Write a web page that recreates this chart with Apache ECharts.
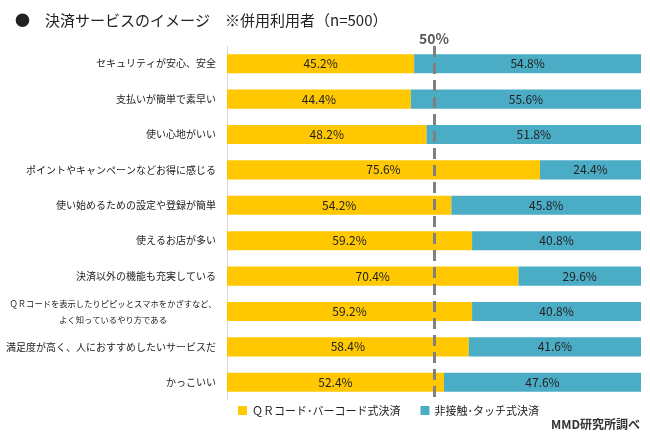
<!DOCTYPE html>
<html><head><meta charset="utf-8">
<script src="https://cdn.jsdelivr.net/npm/echarts@6/dist/echarts.min.js"></script>
<style>html,body{margin:0;padding:0;background:#fff}#c{width:650px;height:432px}</style>
</head><body><div id="c"></div>
<script>
const categories = [
  'セキュリティが安心、安全',
  '支払いが簡単で素早い',
  '使い心地がいい',
  'ポイントやキャンペーンなどお得に感じる',
  '使い始めるための設定や登録が簡単',
  '使えるお店が多い',
  '決済以外の機能も充実している',
  'ＱＲコードを表示したりピピッとスマホをかざすなど、\nよく知っているやり方である',
  '満足度が高く、人におすすめしたいサービスだ',
  'かっこいい'
];
const seriesNames = ['ＱＲコード･バーコード式決済', '非接触･タッチ式決済'];
const qrValues = [45.2, 44.4, 48.2, 75.6, 54.2, 59.2, 70.4, 59.2, 58.4, 52.4];
const touchValues = [54.8, 55.6, 51.8, 24.4, 45.8, 40.8, 29.6, 40.8, 41.6, 47.6];
const refLine = 50;

const FONT = '"Noto Sans CJK JP", "Noto Sans", sans-serif';
const chart = echarts.init(document.getElementById('c'));
const lbl = {
  show: true, position: 'inside', color: '#222', fontSize: 12, fontFamily: FONT,
  formatter: p => p.value.toFixed(1) + '%'
};
chart.setOption({
  animation: false,
  textStyle: { fontFamily: FONT },
  title: [
    { text: '●　決済サービスのイメージ　※併用利用者（n=500）', left: 10, top: 8,
      textStyle: { fontSize: 15, fontWeight: 'normal', color: '#222', fontFamily: FONT } },
    { text: 'MMD研究所調べ', right: 10, bottom: 2, padding: 0,
      textStyle: { fontSize: 12, fontWeight: 'bold', color: '#333', fontFamily: FONT } }
  ],
  legend: {
    left: 233, bottom: 11, itemWidth: 9, itemHeight: 9, itemGap: 20, icon: 'rect',
    textStyle: { fontSize: 11, color: '#222', fontFamily: FONT },
    data: seriesNames
  },
  grid: { left: 227, right: 9, top: 46, bottom: 32, containLabel: false, outerBoundsMode: 'none' },
  xAxis: { type: 'value', min: 0, max: 100, show: false },
  yAxis: {
    type: 'category', data: categories, inverse: true,
    axisLine: { show: true, lineStyle: { color: '#d9d9d9' } },
    axisTick: { show: false },
    axisLabel: {
      fontSize: 10, color: '#222', margin: 11, fontFamily: FONT,
      formatter: v => v.indexOf('\n') >= 0 ? v.split('\n').map(s => '{c|' + s + '}').join('\n') : v,
      rich: { c: { width: 206, align: 'center', fontSize: 8.3, color: '#222', lineHeight: 16 } }
    }
  },
  series: [
    { name: seriesNames[0], type: 'bar', stack: 's', data: qrValues, barWidth: '54%',
      itemStyle: { color: '#FFC800' }, label: lbl,
      markLine: {
        silent: true, symbol: 'none',
        lineStyle: { color: '#808080', width: 3, type: [11, 6] },
        label: { show: true, position: 'start', formatter: '50%', fontSize: 14, color: '#595959', fontWeight: 'bold', fontFamily: FONT, distance: 0 },
        data: [{ xAxis: refLine }]
      }
    },
    { name: seriesNames[1], type: 'bar', stack: 's', data: touchValues, barWidth: '54%',
      itemStyle: { color: '#4BACC6' }, label: lbl }
  ]
});
</script></body></html>
